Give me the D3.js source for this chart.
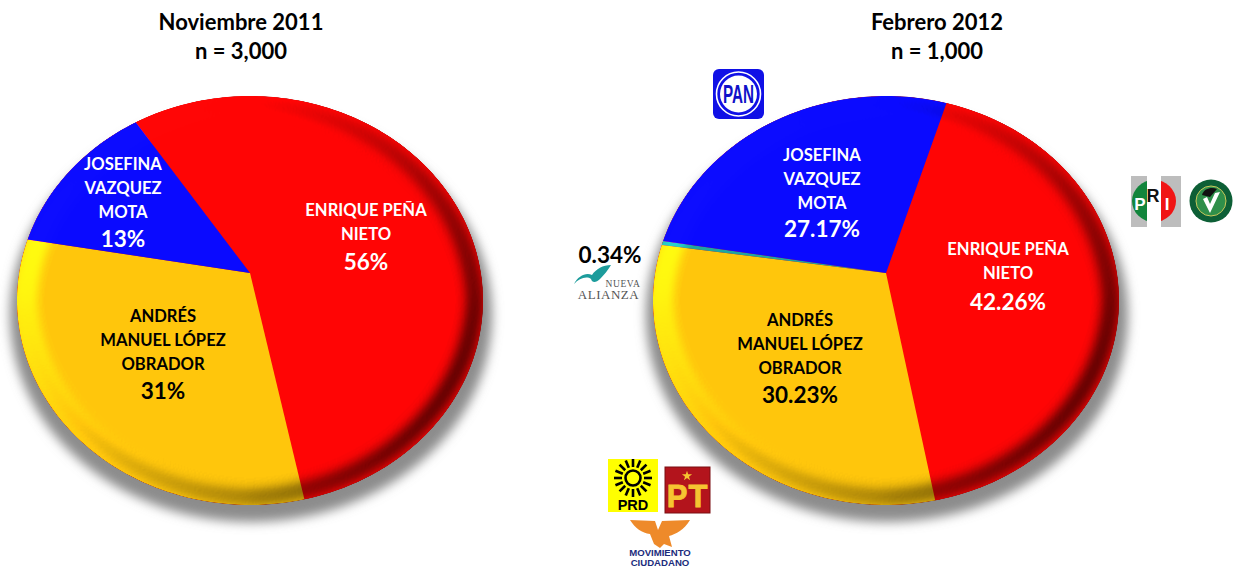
<!DOCTYPE html>
<html><head><meta charset="utf-8">
<script src="https://cdn.jsdelivr.net/npm/d3@7"></script>
<style>html,body{margin:0;padding:0;background:#fff;overflow:hidden}svg{display:block}text{font-family:Lato,sans-serif;font-weight:700;text-anchor:middle}</style>
</head><body>
<script>
// ---- data ----
const candidates = ["ENRIQUE PEÑA NIETO","ANDRÉS MANUEL LÓPEZ OBRADOR","JOSEFINA VAZQUEZ MOTA"];
const nov2011Values = [56, 31, 13];
const nov2011Labels = ["56%","31%","13%"];
const feb2012Candidates = ["ENRIQUE PEÑA NIETO","ANDRÉS MANUEL LÓPEZ OBRADOR","NUEVA ALIANZA","JOSEFINA VAZQUEZ MOTA"];
const feb2012Values = [42.26, 30.23, 0.34, 27.17];
const feb2012Labels = ["42.26%","30.23%","0.34%","27.17%"];
const nameLines = {
  "ENRIQUE PEÑA NIETO":["ENRIQUE PEÑA","NIETO"],
  "ANDRÉS MANUEL LÓPEZ OBRADOR":["ANDRÉS","MANUEL LÓPEZ","OBRADOR"],
  "JOSEFINA VAZQUEZ MOTA":["JOSEFINA","VAZQUEZ","MOTA"]
};
const colorDomain = ["ENRIQUE PEÑA NIETO","ANDRÉS MANUEL LÓPEZ OBRADOR","NUEVA ALIANZA","JOSEFINA VAZQUEZ MOTA"];
const colorRange = ["#ff0505","#ffc60c","#1ea6a0","#0a0aff"];

// ---- layout ----
const W=1233,H=567;
const color=d3.scaleOrdinal(colorDomain,colorRange);
const svg=d3.select("body").append("svg").attr("width",W).attr("height",H).attr("viewBox",`0 0 ${W} ${H}`);
const defs=svg.append("defs");
const RX=230.9,RY=200.8,K=0.1345,APEX_Y=273;

const shadow=defs.append("filter").attr("id","shadow").attr("x","-10%").attr("y","-10%").attr("width","120%").attr("height","120%");
shadow.append("feGaussianBlur").attr("stdDeviation",5.5);

const bevel=defs.append("filter").attr("id","bevel").attr("filterUnits","userSpaceOnUse")
  .attr("x",0).attr("y",70).attr("width",W).attr("height",460).attr("color-interpolation-filters","sRGB");
bevel.append("feMorphology").attr("in","SourceAlpha").attr("operator","erode").attr("radius",8).attr("result","er");
bevel.append("feGaussianBlur").attr("in","er").attr("stdDeviation",7.5).attr("result","h");
const lit=bevel.append("feDiffuseLighting").attr("in","h").attr("surfaceScale",8).attr("diffuseConstant",1).attr("lighting-color","#fff").attr("result","l");
lit.append("feDistantLight").attr("azimuth",205).attr("elevation",45);
bevel.append("feComposite").attr("in","SourceGraphic").attr("in2","l").attr("operator","arithmetic")
  .attr("k1",0.92).attr("k2",0.35).attr("k3",0).attr("k4",0).attr("result","c");
bevel.append("feComposite").attr("in","c").attr("in2","SourceAlpha").attr("operator","in");

function drawPie(cfg){
  const project=(a,r)=>{
    const u=r*Math.sin(a),v=-r*Math.cos(a),w=1-K*v;
    return [cfg.cx+RX*u/w,APEX_Y+RY*v/w];
  };
  svg.append("ellipse").attr("cx",cfg.cx+1).attr("cy",315).attr("rx",241).attr("ry",207)
    .attr("fill","#8c8c8c").attr("filter","url(#shadow)");
  const arcs=d3.pie().sort(null).value((d,i)=>cfg.values[i])
    .startAngle(cfg.start).endAngle(cfg.start+2*Math.PI)(cfg.names);
  const line=d3.line();
  const sliceGroup=svg.append("g").attr("filter","url(#bevel)");
  // solid disc under the slices so the bevel only follows the outer rim
  sliceGroup.append("path").attr("fill",color(cfg.names[0]))
    .attr("d",line(d3.range(240).map(i=>project(i/240*2*Math.PI,1)))+"Z");
  sliceGroup.selectAll("path.slice").data(arcs).join("path").attr("class","slice")
    .attr("fill",d=>color(d.data))
    .attr("d",d=>{
      const t=d3.scaleLinear().domain([0,1]).range([d.startAngle,d.endAngle]);
      const n=Math.max(2,Math.ceil((d.endAngle-d.startAngle)*40));
      return line([[cfg.cx,APEX_Y],...d3.range(n+1).map(i=>project(t(i/n),1))])+"Z";
    });
  cfg.names.forEach((name,i)=>{
    const p=cfg.labelPos[name]; if(!p) return;
    const g=svg.append("g").attr("fill",p.fill);
    nameLines[name].forEach((s,j)=>g.append("text").attr("x",p.x).attr("y",p.y+j*24).attr("font-size",16.6).text(s));
    g.append("text").attr("x",p.x).attr("y",p.v).attr("font-size",22.5).text(cfg.labels[i]);
  });
  svg.append("text").attr("x",cfg.tx).attr("y",30).attr("font-size",22).attr("fill","#000").text(cfg.title);
  svg.append("text").attr("x",cfg.tx).attr("y",59).attr("font-size",22).attr("fill","#000").text(cfg.n);
}
const deg=Math.PI/180;
drawPie({cx:250,start:-33.4*deg,names:candidates,values:nov2011Values,labels:nov2011Labels,title:"Noviembre 2011",n:"n = 3,000",tx:241,
  labelPos:{"ENRIQUE PEÑA NIETO":{x:366,y:216,v:270,fill:"#fff"},"ANDRÉS MANUEL LÓPEZ OBRADOR":{x:163,y:322,v:399,fill:"#000"},"JOSEFINA VAZQUEZ MOTA":{x:123,y:170,v:247,fill:"#fff"}}});
drawPie({cx:886,start:17.2*deg,names:feb2012Candidates,values:feb2012Values,labels:feb2012Labels,title:"Febrero 2012",n:"n = 1,000",tx:937,
  labelPos:{"ENRIQUE PEÑA NIETO":{x:1008,y:255,v:310,fill:"#fff"},"ANDRÉS MANUEL LÓPEZ OBRADOR":{x:800,y:326,v:403,fill:"#000"},"JOSEFINA VAZQUEZ MOTA":{x:822,y:161,v:237,fill:"#fff"}}});

svg.append("text").attr("x",610).attr("y",263).attr("font-size",22.5).attr("fill","#000").text(feb2012Labels[2]);

// ---- party logos ----
const lg=svg.append("g");
const T=(x,y,s,size,fill,font,extra)=>{const t=lg.append("text").attr("x",x).attr("y",y).attr("font-size",size).attr("fill",fill).text(s);
  t.style("font-family",font||"'Liberation Sans'");if(extra)extra(t);return t;};
// Nueva Alianza
lg.append("path").attr("d","M574 284C579 278 587 276 591 279C592 283 596 283 600 279C604 275 608 270 611 265C603 265 596 269 592 275C586 272 578 276 574 284Z").attr("fill","#1c9c9c");
T(623,286.5,"NUEVA",9.5,"#555","'Liberation Serif'",t=>t.style("font-weight",400).style("letter-spacing","0.6px"));
T(608.5,298.5,"ALIANZA",13,"#555","'Liberation Serif'",t=>t.style("font-weight",400).style("letter-spacing","0.5px"));
// PAN
lg.append("rect").attr("x",713).attr("y",69).attr("width",51).attr("height",50).attr("rx",6).attr("fill","#1010e6");
lg.append("circle").attr("cx",738.5).attr("cy",94).attr("r",22).attr("fill","none").attr("stroke","#fff").attr("stroke-width",1.6);
lg.append("circle").attr("cx",738.5).attr("cy",94).attr("r",18.5).attr("fill","#fff");
T(738.5,103,"PAN",25,"#1010c8",null,t=>t.attr("textLength",31).attr("lengthAdjust","spacingAndGlyphs"));
// PRD
lg.append("rect").attr("x",608).attr("y",459).attr("width",50).attr("height",53).attr("fill","#ffff00");
lg.append("g").selectAll("line").data(d3.range(16)).join("line")
  .attr("x1",d=>633+11*Math.cos(d*22.5*deg)).attr("y1",d=>478+11*Math.sin(d*22.5*deg))
  .attr("x2",d=>633+19*Math.cos(d*22.5*deg)).attr("y2",d=>478+19*Math.sin(d*22.5*deg))
  .attr("stroke","#000").attr("stroke-width",2.6);
lg.append("circle").attr("cx",633).attr("cy",478).attr("r",7.5).attr("fill","none").attr("stroke","#000").attr("stroke-width",2.6);
T(633,509.5,"PRD",14.5,"#000");
// PT
lg.append("rect").attr("x",665).attr("y",467).attr("width",45).attr("height",46).attr("fill","#b3141c").attr("stroke","#7a0f12").attr("stroke-width",1);
T(677,507,"P",31,"#f6c431",null,t=>t.attr("stroke","#f6c431").attr("stroke-width",0.8));
T(698,507,"T",31,"#f6c431",null,t=>t.attr("stroke","#f6c431").attr("stroke-width",0.8));
lg.append("path").attr("d",d3.symbol(d3.symbolStar,32)()).attr("transform","translate(687,476)").attr("fill","#f6c431");
// Movimiento Ciudadano
lg.append("path").attr("fill","#ee8a2a").attr("d","M630 520L655 521L658 530L662 521L690 520C684 530 676 534 669 536L672 547L664 544L660 548L654 544L650 534C642 533 635 528 630 520Z");
T(660,556,"MOVIMIENTO",9.6,"#1c2c7c");
T(660,565.5,"CIUDADANO",9.6,"#1c2c7c");
// PRI
lg.append("rect").attr("x",1131).attr("y",176).attr("width",50).attr("height",51).attr("fill","#bdbdbd");
lg.append("rect").attr("x",1147).attr("y",176).attr("width",14).attr("height",51).attr("fill","#fff");
const priClip=(id,x,w)=>defs.append("clipPath").attr("id",id).append("rect").attr("x",x).attr("y",170).attr("width",w).attr("height",60);
priClip("pg",1130,17);priClip("pr",1161,21);
lg.append("ellipse").attr("cx",1154).attr("cy",201).attr("rx",22).attr("ry",21).attr("fill","#12853c").attr("clip-path","url(#pg)");
lg.append("ellipse").attr("cx",1154).attr("cy",201).attr("rx",22).attr("ry",21).attr("fill","#f01414").attr("clip-path","url(#pr)");
T(1140,210,"P",17,"#fff");
T(1153,202,"R",18,"#111");
T(1167,210,"I",17,"#fff");
// Verde
lg.append("circle").attr("cx",1211).attr("cy",201).attr("r",21.5).attr("fill","#0d5f36");
lg.append("circle").attr("cx",1211).attr("cy",201).attr("r",15).attr("fill","#2f8f4a").attr("stroke","#c8c85a").attr("stroke-width",1);
lg.append("path").attr("d","M1203 199L1210 213L1220 192L1215 193L1210 204L1207 197Z").attr("fill","#fff");
lg.append("path").attr("d","M1202 195C1204 188 1212 187 1217 189L1210 197Z").attr("fill","#111");
</script>
</body></html>
